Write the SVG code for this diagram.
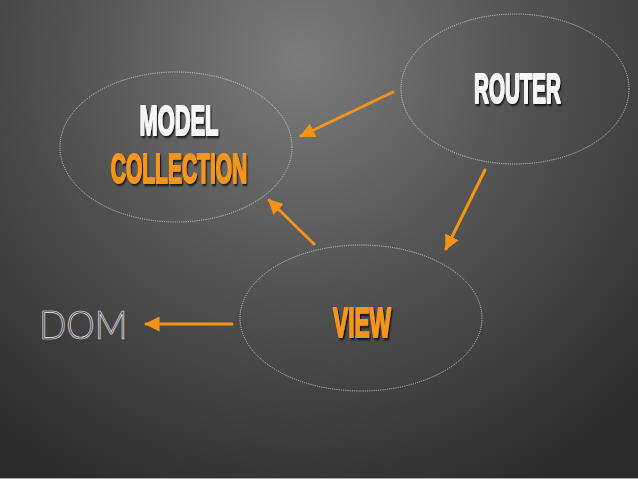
<svg xmlns="http://www.w3.org/2000/svg" width="638" height="479" viewBox="0 0 638 479">
<defs>
<radialGradient id="bg" gradientUnits="userSpaceOnUse" cx="300" cy="60" r="480" fx="300" fy="60">
<stop offset="0" stop-color="#7c7c7c"/>
<stop offset="0.45" stop-color="#555555"/>
<stop offset="1" stop-color="#2c2c2c"/>
</radialGradient>
<filter id="sh" x="-20%" y="-30%" width="140%" height="170%">
<feDropShadow dx="2.5" dy="2" stdDeviation="1.3" flood-color="#000" flood-opacity="0.75"/>
</filter>
<marker id="ah" viewBox="0 0 10 10" refX="9" refY="5" markerWidth="5" markerHeight="5" orient="auto" markerUnits="strokeWidth">
<path d="M0,0 L10,5 L0,10 Z" fill="#f39419"/>
</marker>
</defs>
<style>
.node{fill:none;stroke:#e8e8e8;stroke-width:1;stroke-dasharray:1 1.2;opacity:0.85}
.t{font-family:"Liberation Sans",Arial,sans-serif;font-weight:bold;font-size:42px;text-anchor:middle;filter:url(#sh);stroke-width:2;stroke-linejoin:round}
.w{fill:#f6f6f6;stroke:#f6f6f6}
.o{fill:#f5961c;stroke:#f5961c}
.c{fill:none;stroke:#f39419;stroke-width:3;stroke-linecap:round;marker-end:url(#ah)}
</style>
<rect x="0" y="0" width="638" height="479" fill="url(#bg)"/>
<rect x="0" y="478" width="638" height="1" fill="#a6a6a6"/>
<g id="connectors">
<line class="c" x1="393" y1="92" x2="301" y2="136"/>
<line class="c" x1="485" y1="170" x2="446" y2="249"/>
<line class="c" x1="314" y1="244" x2="269" y2="200"/>
<line class="c" x1="232" y1="324" x2="146" y2="324"/>
</g>
<g id="model">
<ellipse class="node" cx="176" cy="147" rx="116" ry="75"/>
<text class="t w" transform="translate(179,135) scale(0.52,1)">MODEL</text>
<text class="t o" transform="translate(179,183) scale(0.5,1)">COLLECTION</text>
</g>
<g id="router">
<ellipse class="node" cx="515" cy="89" rx="114" ry="75"/>
<text class="t w" transform="translate(517.5,103) scale(0.49,1)">ROUTER</text>
</g>
<g id="view">
<ellipse class="node" cx="361" cy="318" rx="121" ry="73"/>
<text class="t o" transform="translate(362,337) scale(0.54,1)">VIEW</text>
</g>
<g id="dom">
<text transform="translate(39,339) scale(0.9,1)" font-family="Lato,'Liberation Sans',sans-serif" font-weight="300" font-size="40" fill="none" stroke="#f0f0f0" stroke-width="0.7">DOM</text>
</g>
</svg>
